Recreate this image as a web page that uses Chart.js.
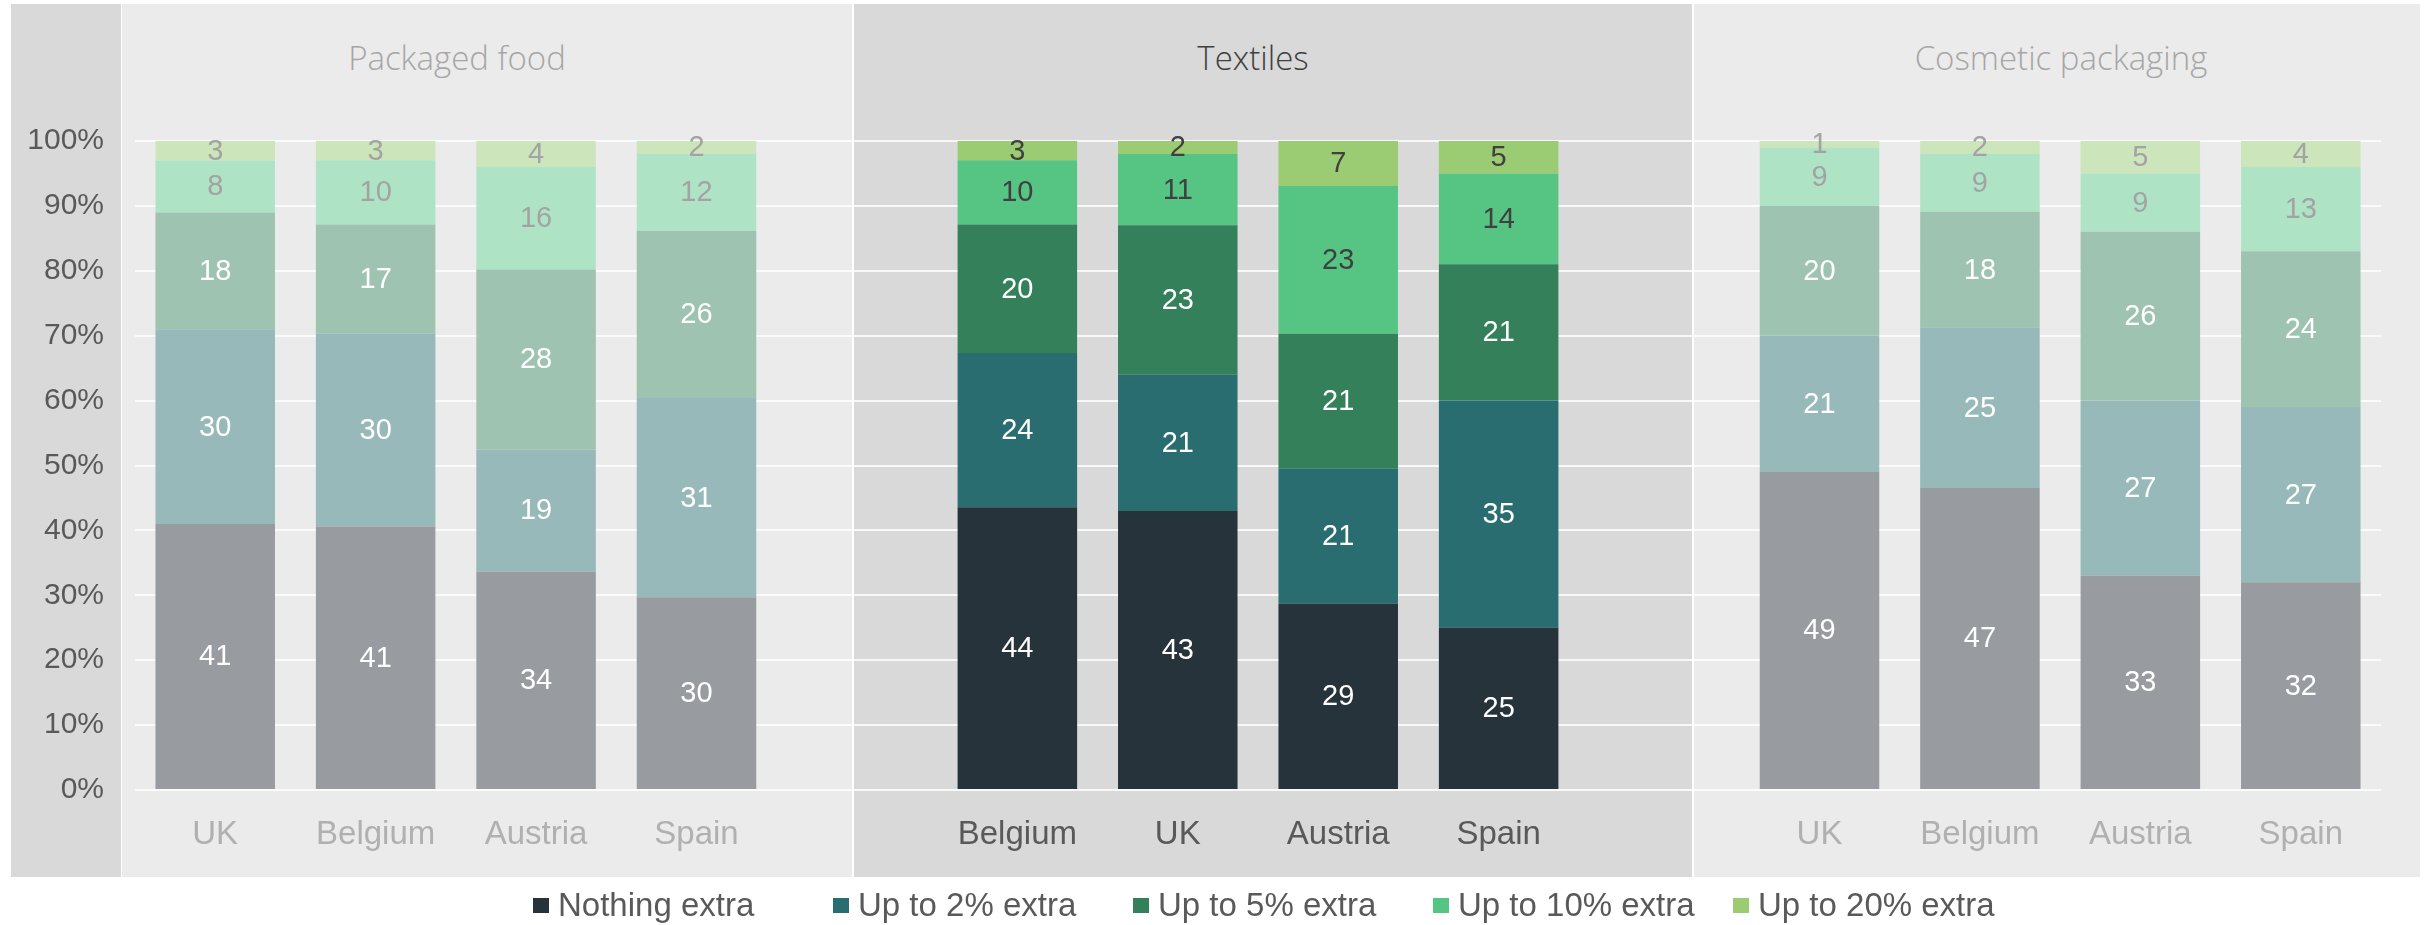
<!DOCTYPE html>
<html>
<head>
<meta charset="utf-8">
<script src="https://cdn.jsdelivr.net/npm/chart.js@4/dist/chart.umd.min.js"></script>
<style>
    html, body { margin: 0; padding: 0; background: #ffffff; }
    #wrap { position: relative; width: 2430px; height: 925px; overflow: hidden; }
    .panel { position: absolute; top: 4px; height: 873px; }
    .title {
        position: absolute; top: 38px; height: 40px; line-height: 40px;
        font-family: "Open Sans", sans-serif; font-weight: 300; font-size: 33px;
        text-align: center; white-space: nowrap;
    }
    #chart { position: absolute; left: 0; top: 0; }
    #legend {
        position: absolute; left: 0; top: 887px; width: 2430px; height: 36px;
        font-family: "Liberation Sans", Arial, sans-serif; font-size: 33px; line-height: 36px; color: #595959;
    }
    #legend .item { position: absolute; top: 0; height: 36px; white-space: nowrap; }
    #legend .box { position: absolute; left: 0; top: 11px; width: 16px; height: 15px; }
    #legend .text { position: absolute; left: 25px; top: 0; }
</style>
</head>
<body>
<div id="wrap">
    <div class="panel" style="left: 11px; width: 110px; background: #d9d9d9;"></div>
    <div class="panel" style="left: 122px; width: 730px; background: #ebebeb;"></div>
    <div class="panel" style="left: 854px; width: 838px; background: #d9d9d9;"></div>
    <div class="panel" style="left: 1694px; width: 726px; background: #ebebeb;"></div>
    <div class="title" id="title0" style="left: 307px; width: 300px; color: #a6a6a6;"></div>
    <div class="title" id="title1" style="left: 1103px; width: 300px; color: #404040;"></div>
    <div class="title" id="title2" style="left: 1861px; width: 400px; color: #a6a6a6;"></div>
    <canvas id="chart" width="2430" height="925"></canvas>
    <div id="legend"></div>
</div>
<script>
// answers per country, one row per series (bottom to top)
const series = ['Nothing extra', 'Up to 2% extra', 'Up to 5% extra', 'Up to 10% extra', 'Up to 20% extra'];
const panelTitles = ['Packaged food', 'Textiles', 'Cosmetic packaging'];

const foodCountries = ['UK', 'Belgium', 'Austria', 'Spain'];
const foodValues = [
    [41, 41, 34, 30],
    [30, 30, 19, 31],
    [18, 17, 28, 26],
    [8, 10, 16, 12],
    [3, 3, 4, 2]
];

const textileCountries = ['Belgium', 'UK', 'Austria', 'Spain'];
const textileValues = [
    [44, 43, 29, 25],
    [24, 21, 21, 35],
    [20, 23, 21, 21],
    [10, 11, 23, 14],
    [3, 2, 7, 5]
];

const cosmeticCountries = ['UK', 'Belgium', 'Austria', 'Spain'];
const cosmeticValues = [
    [49, 47, 33, 32],
    [21, 25, 27, 27],
    [20, 18, 26, 24],
    [9, 9, 9, 13],
    [1, 2, 5, 4]
];

const yTickLabels = ['0%', '10%', '20%', '30%', '40%', '50%', '60%', '70%', '80%', '90%', '100%'];

// Textiles is highlighted, the other two groups are muted
const strongColors = ['#27333b', '#296d70', '#33805a', '#56c584', '#9bcb72'];
const mutedColors = ['#989ca0', '#98b9b9', '#9ec3b0', '#aee4c5', '#cce5ba'];
const strongText = '#595959';
const mutedText = '#b0b0b0';

const groups = [foodValues, textileValues, cosmeticValues];
const labels = [...foodCountries, '', ...textileCountries, '', ...cosmeticCountries];

// which group a category slot belongs to (-1 for the blank spacers)
function groupOf(i) {
    if (i < 4) return 0;
    if (i === 4) return -1;
    if (i < 9) return 1;
    if (i === 9) return -1;
    return 2;
}

function rawValue(s, i) {
    const g = groupOf(i);
    if (g < 0) return null;
    return groups[g][s][i - g * 5];
}

// 100% stacked: each segment is its share of the country total
function shareValue(s, i) {
    const g = groupOf(i);
    if (g < 0) return null;
    const col = i - g * 5;
    let total = 0;
    for (let k = 0; k < series.length; k++) total += groups[g][k][col];
    return groups[g][s][col] / total * 100;
}

const datasets = series.map((name, s) => {
    const data = [];
    const colors = [];
    for (let i = 0; i < labels.length; i++) {
        data.push(shareValue(s, i));
        colors.push(groupOf(i) === 1 ? strongColors[s] : mutedColors[s]);
    }
    return {
        label: name,
        data: data,
        backgroundColor: colors,
        borderWidth: 0,
        categoryPercentage: 1,
        barPercentage: 0.745
    };
});

const segmentLabels = {
    id: 'segmentLabels',
    afterDatasetsDraw(chart) {
        const ctx = chart.ctx;
        ctx.save();
        ctx.font = '29px "Liberation Sans", Arial, sans-serif';
        ctx.textAlign = 'center';
        ctx.textBaseline = 'middle';
        chart.data.datasets.forEach((ds, s) => {
            chart.getDatasetMeta(s).data.forEach((bar, i) => {
                const v = rawValue(s, i);
                if (v === null) return;
                const p = bar.getProps(['x', 'y', 'base'], true);
                if (s < 3) ctx.fillStyle = '#ffffff';
                else ctx.fillStyle = groupOf(i) === 1 ? '#404040' : '#a3a3a3';
                ctx.fillText(String(v), p.x, (p.y + p.base) / 2 + 1);
            });
        });
        ctx.restore();
    }
};

Chart.defaults.font.family = '"Liberation Sans", Arial, sans-serif';

const chart = new Chart(document.getElementById('chart').getContext('2d'), {
    type: 'bar',
    data: {
        labels: labels,
        datasets: datasets
    },
    options: {
        responsive: false,
        devicePixelRatio: 1,
        animation: false,
        layout: {
            padding: { left: 0, right: 49, top: 141, bottom: 0 }
        },
        plugins: {
            legend: { display: false },
            tooltip: { enabled: false }
        },
        scales: {
            x: {
                stacked: true,
                grid: { display: false },
                border: { display: false },
                ticks: {
                    font: { size: 33 },
                    padding: 17,
                    maxRotation: 0,
                    autoSkip: false,
                    color: (ctx) => groupOf(ctx.index) === 1 ? strongText : mutedText
                },
                afterFit: (scale) => { scale.height = 135; }
            },
            y: {
                stacked: true,
                min: 0,
                max: 100,
                grid: {
                    color: 'rgba(255,255,255,0.8)',
                    lineWidth: 2,
                    drawTicks: false
                },
                border: { display: false },
                ticks: {
                    stepSize: 10,
                    font: { size: 30 },
                    color: '#595959',
                    padding: 31,
                    callback: (value) => yTickLabels[Math.round(value / 10)]
                },
                afterFit: (scale) => { scale.width = 135; }
            }
        }
    },
    plugins: [segmentLabels]
});

panelTitles.forEach((t, i) => {
    document.getElementById('title' + i).textContent = t;
});

// legend entries sit in equal-width slots under the chart
const legend = document.getElementById('legend');
series.forEach((name, s) => {
    const item = document.createElement('div');
    item.className = 'item';
    item.style.left = (533 + 300 * s) + 'px';
    const box = document.createElement('div');
    box.className = 'box';
    box.style.background = strongColors[s];
    const text = document.createElement('div');
    text.className = 'text';
    text.textContent = name;
    item.appendChild(box);
    item.appendChild(text);
    legend.appendChild(item);
});
</script>
</body>
</html>
